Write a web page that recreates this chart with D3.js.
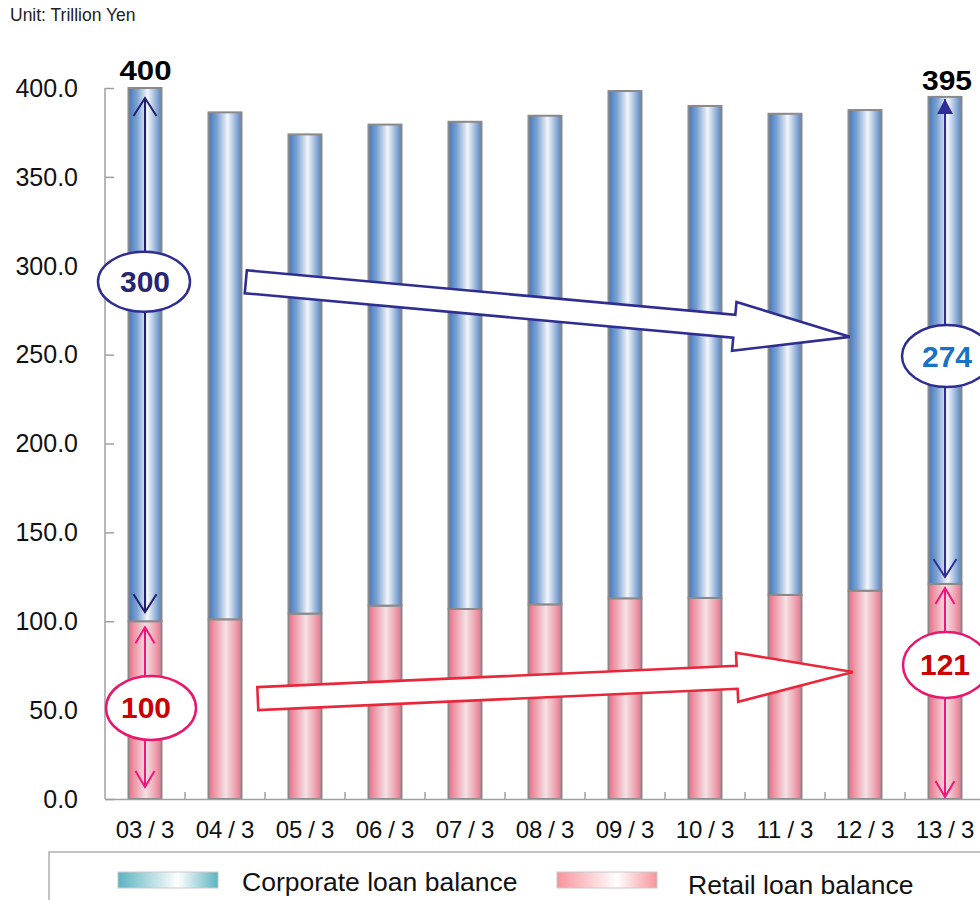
<!DOCTYPE html>
<html>
<head>
<meta charset="utf-8">
<script src="https://cdn.jsdelivr.net/npm/d3@7"></script>
<style>
  body { margin: 0; background: #fff; }
  svg { display: block; }
  text { font-family: "Liberation Sans", Arial, sans-serif; }
</style>
</head>
<body>
<svg id="chart" width="980" height="900"></svg>
<script>
// Loan balances at fiscal year end (trillion yen)
const categories = ["03/3", "04/3", "05/3", "06/3", "07/3", "08/3", "09/3", "10/3", "11/3", "12/3", "13/3"];
const retailLoans = [100, 101.1, 104.3, 108.8, 106.9, 109.5, 112.9, 113.1, 114.8, 117.2, 121];
const corporateLoans = [300, 285.2, 269.6, 270.6, 274.1, 274.9, 285.4, 276.8, 270.7, 270.4, 274];
const yTicks = [0, 50, 100, 150, 200, 250, 300, 350, 400];
const seriesNames = ["Corporate loan balance", "Retail loan balance"];
const unitLabel = "Unit: Trillion Yen";

// Trend arrows, in (category position, value) units
const trendCorporate = { from: [1.26, 291], to: [8.81, 260] };
const trendRetail = { from: [1.41, 56.5], to: [8.85, 71.4] };

const rows = categories.map((c, i) => ({ cat: c, retail: retailLoans[i], corporate: corporateLoans[i] }));
const totals = rows.map(r => r.retail + r.corporate);

const svg = d3.select("#chart");
const defs = svg.append("defs");

function hGradient(id, stops) {
  const g = defs.append("linearGradient").attr("id", id)
    .attr("x1", "0%").attr("x2", "100%").attr("y1", "0%").attr("y2", "0%");
  stops.forEach(([o, c]) => g.append("stop").attr("offset", o).attr("stop-color", c));
}
hGradient("gCorp", [["0%", "#4677ba"], ["25%", "#7aa0d1"], ["58%", "#f3f6fb"], ["82%", "#98b4da"], ["100%", "#5283c0"]]);
hGradient("gRetail", [["0%", "#e86e86"], ["25%", "#efa5b3"], ["52%", "#f4e0e3"], ["78%", "#efaab7"], ["100%", "#e7738a"]]);
hGradient("gCorpKey", [["0%", "#5cb3c0"], ["60%", "#ffffff"], ["100%", "#5cb3c0"]]);
hGradient("gRetailKey", [["0%", "#f8939b"], ["60%", "#ffffff"], ["100%", "#f8939b"]]);

const x = d3.scaleBand().domain(categories).range([105, 985])
  .paddingInner(0.5875).paddingOuter(0.29375);
const y = d3.scaleLinear().domain([0, 400]).range([799, 88]);
const step = x.step();
const cx = i => x(categories[0]) + x.bandwidth() / 2 + i * step;

// Unit caption
svg.append("text").attr("x", 10).attr("y", 21)
  .attr("font-size", 17.5).attr("fill", "#222").text(unitLabel);

// Stacked bars
const stack = d3.stack().keys(["retail", "corporate"]);
const layers = stack(rows);
const fills = { retail: "url(#gRetail)", corporate: "url(#gCorp)" };
svg.append("g").selectAll("g").data(layers).join("g")
  .attr("fill", d => fills[d.key])
  .selectAll("rect").data(d => d).join("rect")
  .attr("x", d => x(d.data.cat))
  .attr("width", x.bandwidth())
  .attr("y", d => y(d[1]))
  .attr("height", d => y(d[0]) - y(d[1]))
  .attr("stroke", "#8a8a8a").attr("stroke-width", 2);

// Y axis (ticks pointing inward)
const yAxis = svg.append("g").attr("transform", "translate(105,0)")
  .call(d3.axisRight(y).tickValues(yTicks).tickSize(9).tickFormat(""));
yAxis.select(".domain").attr("stroke", "#a0a0a0").attr("stroke-width", 1.5).attr("d", `M0,${y(400)}V${y(0)}`);
yAxis.selectAll(".tick line").attr("stroke", "#a0a0a0").attr("stroke-width", 1.5);
svg.append("g").selectAll("text").data(yTicks).join("text")
  .attr("x", 78).attr("y", d => y(d) + 8.8)
  .attr("text-anchor", "end").attr("font-size", 25).attr("fill", "#111")
  .text(d3.format(".1f"));

// X axis with small ticks between categories
const xAxis = svg.append("g").attr("transform", `translate(0,${y(0)})`)
  .call(d3.axisBottom(x).tickSize(0).tickFormat(""));
xAxis.select(".domain").attr("stroke", "#a0a0a0").attr("stroke-width", 1.5);
const bounds = d3.range(1, categories.length + 1).map(k => 105 + k * step);
svg.append("g").selectAll("line").data(bounds).join("line")
  .attr("x1", d => d).attr("x2", d => d)
  .attr("y1", y(0)).attr("y2", y(0) - 7)
  .attr("stroke", "#a0a0a0").attr("stroke-width", 1.5);
// Category labels: the slash gets some air on both sides
const xLabels = svg.append("g").selectAll("text").data(categories).join("text")
  .attr("x", d => x(d) + x.bandwidth() / 2).attr("y", 838)
  .attr("text-anchor", "middle").attr("font-size", 24).attr("fill", "#111");
xLabels.each(function (d) {
  const [a, b] = d.split("/");
  const t = d3.select(this);
  t.append("tspan").text(a);
  t.append("tspan").attr("dx", 6).text("/");
  t.append("tspan").attr("dx", 6).text(b);
});

// Block trend arrows
function blockArrow(spec, color) {
  const T = [cx(spec.from[0]), y(spec.from[1])];
  const P = [cx(spec.to[0]), y(spec.to[1])];
  const dx = P[0] - T[0], dy = P[1] - T[1], L = Math.hypot(dx, dy);
  const u = [dx / L, dy / L], n = [-u[1], u[0]];
  const sw = 11.5, hw = 24.5, hl = 116;
  const B = [P[0] - u[0] * hl, P[1] - u[1] * hl];
  const pt = (p, k) => [p[0] + n[0] * k, p[1] + n[1] * k];
  const pts = [pt(T, -sw), pt(B, -sw), pt(B, -hw), P, pt(B, hw), pt(B, sw), pt(T, sw)];
  svg.append("path")
    .attr("d", "M" + pts.map(p => p.join(",")).join("L") + "Z")
    .attr("fill", "#fff").attr("stroke", color).attr("stroke-width", 2.6)
    .attr("stroke-linejoin", "miter");
}
blockArrow(trendCorporate, "#2e2e92");
blockArrow(trendRetail, "#e8283a");

// Vertical span arrows with value ellipses
function openHead(g, xc, tipY, dir, color, hw, h) {
  g.append("path")
    .attr("d", `M${xc - hw},${tipY + dir * h}L${xc},${tipY}L${xc + hw},${tipY + dir * h}`)
    .attr("fill", "none").attr("stroke", color).attr("stroke-width", 2);
}
function filledHead(g, xc, tipY, dir, color, hw, h) {
  g.append("path")
    .attr("d", `M${xc - hw},${tipY + dir * h}L${xc},${tipY}L${xc + hw},${tipY + dir * h}Z`)
    .attr("fill", color);
}
function spanArrow(o) {
  const g = svg.append("g");
  const xc = cx(o.i);
  g.append("line").attr("x1", xc).attr("x2", xc)
    .attr("y1", o.top).attr("y2", o.bottom)
    .attr("stroke", o.color).attr("stroke-width", 2);
  if (o.topFilled) filledHead(g, xc, o.top, 1, o.color, 8, 15);
  else openHead(g, xc, o.top, 1, o.color, o.hw, o.hh);
  openHead(g, xc, o.bottom, -1, o.color, o.hw, o.hh);
  g.append("ellipse").attr("cx", xc + o.ex).attr("cy", y(o.at))
    .attr("rx", o.rx).attr("ry", o.ry)
    .attr("fill", "#fff").attr("stroke", o.ring).attr("stroke-width", 2.5);
  g.append("text").attr("x", xc + o.tx).attr("y", y(o.at) + 10.5)
    .attr("text-anchor", "middle").attr("font-size", 30).attr("font-weight", "bold")
    .attr("fill", o.textColor).text(d3.format(".0f")(o.value));
}
const last = categories.length - 1;
spanArrow({ i: 0, top: y(totals[0]) + 10, bottom: y(retailLoans[0]) - 9, color: "#1f1f6a", hw: 11.5, hh: 18,
  at: 291, ex: -1, tx: 0, rx: 46, ry: 30, ring: "#2e2e92", textColor: "#262672", value: corporateLoans[0] });
spanArrow({ i: 0, top: y(retailLoans[0]) + 6, bottom: y(0) - 12, color: "#f0167a", hw: 9.5, hh: 16,
  at: 51.2, ex: 6, tx: 1, rx: 45, ry: 32, ring: "#e8186e", textColor: "#cc0000", value: retailLoans[0] });
spanArrow({ i: last, top: y(totals[last]) + 2, bottom: y(retailLoans[last]) - 7, color: "#2e2e9a", hw: 11.5, hh: 18,
  topFilled: true, at: 249.2, ex: 2, tx: 2, rx: 45, ry: 31, ring: "#2e2e92", textColor: "#1a72c4", value: corporateLoans[last] });
spanArrow({ i: last, top: y(retailLoans[last]) + 4, bottom: y(0) - 2, color: "#f0167a", hw: 9.5, hh: 16,
  at: 75.4, ex: 1, tx: 0, rx: 43, ry: 33, ring: "#e8186e", textColor: "#cc0000", value: retailLoans[last] });

// Totals above the first and last bars
[[0, 80, 52], [last, 90, 50]].forEach(([i, by, w]) => {
  svg.append("text").attr("x", cx(i) + (i === 0 ? 0.5 : 2)).attr("y", by)
    .attr("text-anchor", "middle").attr("font-size", i === 0 ? 27 : 28).attr("font-weight", "bold")
    .attr("fill", "#000").attr("textLength", w).attr("lengthAdjust", "spacingAndGlyphs")
    .text(d3.format(".0f")(totals[i]));
});

// Legend
const legend = svg.append("g");
legend.append("rect").attr("x", 49).attr("y", 852).attr("width", 950).attr("height", 80)
  .attr("fill", "#fff").attr("stroke", "#b0b0b0").attr("stroke-width", 1.5);
const keys = [
  { name: seriesNames[0], fill: "url(#gCorpKey)", sx: 118, tx: 242, ty: 891 },
  { name: seriesNames[1], fill: "url(#gRetailKey)", sx: 557, tx: 688, ty: 894 }
];
keys.forEach(k => {
  legend.append("rect").attr("x", k.sx).attr("y", 872).attr("width", 100).attr("height", 16)
    .attr("fill", k.fill).attr("stroke", "#c8c8c8").attr("stroke-width", 1);
  legend.append("text").attr("x", k.tx).attr("y", k.ty)
    .attr("font-size", 26.5).attr("fill", "#111").text(k.name);
});
</script>
</body>
</html>
